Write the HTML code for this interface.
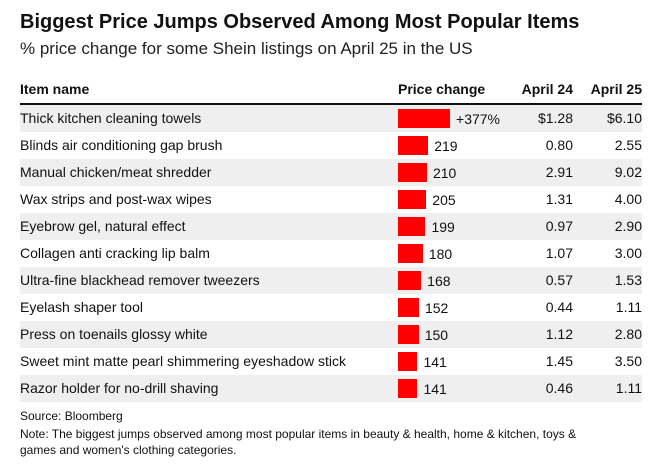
<!DOCTYPE html>
<html><head><meta charset="utf-8"><style>
body{margin:0;width:666px;height:471px;background:#fff;font-family:"Liberation Sans",Arial,sans-serif;color:#111;position:relative;overflow:hidden}
.t{position:absolute;white-space:nowrap}
</style></head><body>
<div class="t" style="left:20px;top:11px;font-size:20px;font-weight:bold">Biggest Price Jumps Observed Among Most Popular Items</div>
<div class="t" style="left:20px;top:39px;font-size:17px;color:#222">% price change for some Shein listings on April 25 in the US</div>
<div class="t" style="left:20px;top:81px;font-size:14px;font-weight:bold">Item name</div>
<div class="t" style="left:398px;top:81px;font-size:14px;font-weight:bold">Price change</div>
<div class="t" style="right:93px;top:81px;font-size:14px;font-weight:bold">April 24</div>
<div class="t" style="right:24px;top:81px;font-size:14px;font-weight:bold">April 25</div>
<div style="position:absolute;left:20px;top:103px;width:622px;height:2px;background:#111"></div>
<div id="rows"></div>
<div class="t" style="left:20px;top:409px;font-size:12px">Source: Bloomberg</div>
<div class="t" style="left:20px;top:426px;font-size:12px;line-height:16px">Note: The biggest jumps observed among most popular items in beauty &amp; health, home &amp; kitchen, toys &amp;<br>games and women's clothing categories.</div>
<script>
const items=["Thick kitchen cleaning towels","Blinds air conditioning gap brush","Manual chicken/meat shredder","Wax strips and post-wax wipes","Eyebrow gel, natural effect","Collagen anti cracking lip balm","Ultra-fine blackhead remover tweezers","Eyelash shaper tool","Press on toenails glossy white","Sweet mint matte pearl shimmering eyeshadow stick","Razor holder for no-drill shaving"];
const changes=[377,219,210,205,199,180,168,152,150,141,141];
const apr24=["$1.28","0.80","2.91","1.31","0.97","1.07","0.57","0.44","1.12","1.45","0.46"];
const apr25=["$6.10","2.55","9.02","4.00","2.90","3.00","1.53","1.11","2.80","3.50","1.11"];
const x=v=>v*0.138;
const c=document.getElementById('rows');
items.forEach((n,i)=>{
  const y=105+i*27;
  const r=document.createElement('div');
  
  
  r.style.cssText=`position:absolute;left:20px;top:${y}px;width:622px;height:27px;background:${i%2==0?'#efefef':'#fff'};font-size:14px`;
  const w=x(changes[i]);
  r.innerHTML=`<span class="t" style="left:0;top:5px">${n}</span>
  <div style="position:absolute;left:378px;top:4px;width:${w}px;height:19px;background:#f00"></div>
  <span class="t" style="left:${378+w+6}px;top:6px">${i==0?'+'+changes[i]+'%':changes[i]}</span>
  <span class="t" style="right:69px;top:5px">${apr24[i]}</span>
  <span class="t" style="right:0;top:5px">${apr25[i]}</span>`;
  c.appendChild(r);
});
</script>
</body></html>
